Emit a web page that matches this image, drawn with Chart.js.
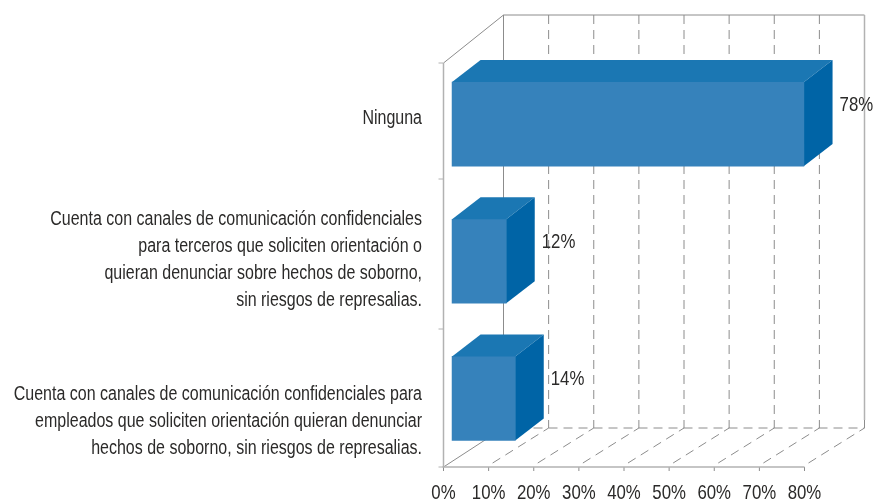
<!DOCTYPE html>
<html>
<head>
<meta charset="utf-8">
<style>
  body { margin: 0; background: #fff; }
</style>
<script src="https://cdn.jsdelivr.net/npm/chart.js@4"></script>
</head>
<body>
<canvas id="chart" width="876" height="503"></canvas>
<script>
const categories = [
  ['Ninguna'],
  ['Cuenta con canales de comunicación confidenciales', 'para terceros que soliciten orientación o', 'quieran denunciar sobre hechos de soborno,', 'sin riesgos de represalias.'],
  ['Cuenta con canales de comunicación confidenciales para', 'empleados que soliciten orientación quieran denunciar', 'hechos de soborno, sin riesgos de represalias.']
];
const values = [78, 12, 14];
const xTicks = [0, 10, 20, 30, 40, 50, 60, 70, 80];

const fontName = '"Liberation Sans", sans-serif';
const textColor = '#2b2a29';
const lineColor = '#8c8c8c';
const axisColor = '#b2b2b2';
const frontColor = '#3682bb';
const topColor = '#1b77b3';
const sideColor = '#0064a6';

// the bars sit a little inside the box, so they get their own hidden x axis
const barShift = 1.9;
// depth of the bars and of the box
const barDepth = { x: 28.5, y: 22 };
const boxDepth = { x: 60, top: 48, bottom: 39 };
const boxTop = 63;
const floorY = 467;
const leftTicks = [63, 179, 329, 467];
const labelCenters = [118, 260, 421];
// no condensed font is installed, so the text is squeezed by hand
const squeeze = 0.8;

const line = (ctx, x1, y1, x2, y2, color, width, dash) => {
  ctx.save();
  ctx.strokeStyle = color;
  ctx.lineWidth = width;
  ctx.setLineDash(dash || []);
  ctx.beginPath();
  ctx.moveTo(x1, y1);
  ctx.lineTo(x2, y2);
  ctx.stroke();
  ctx.restore();
};

const face = (ctx, points, color) => {
  ctx.fillStyle = color;
  ctx.beginPath();
  points.forEach((p, i) => (i ? ctx.lineTo(p[0], p[1]) : ctx.moveTo(p[0], p[1])));
  ctx.closePath();
  ctx.fill();
};

const label = (ctx, text, x, y, align, size) => {
  ctx.save();
  ctx.translate(x, y);
  ctx.scale(squeeze, 1);
  ctx.fillStyle = textColor;
  ctx.font = size + 'px ' + fontName;
  ctx.textBaseline = 'middle';
  ctx.textAlign = align;
  ctx.fillText(text, 0, 0);
  ctx.restore();
};

const boxPlugin = {
  id: 'box',
  beforeDatasetsDraw(chart) {
    const { ctx } = chart;
    const x = chart.scales.x;
    const left = x.getPixelForValue(0);
    const right = x.getPixelForValue(80);
    const backTop = boxTop - boxDepth.top;
    const backFloor = floorY - boxDepth.bottom;
    const dash = [9, 6];

    xTicks.forEach((tick) => {
      const px = x.getPixelForValue(tick);
      if (tick > 0) {
        line(ctx, px + boxDepth.x, backTop, px + boxDepth.x, backFloor, lineColor, 1, dash);
        line(ctx, px + 4, floorY - 4, px + boxDepth.x, backFloor, lineColor, 1, dash);
      }
      line(ctx, px, floorY, px, floorY + 4, lineColor, 1);
      label(ctx, tick + '%', px, 493.5, 'center', 21);
    });

    // back wall and side wall
    line(ctx, left + boxDepth.x, backTop, right + boxDepth.x, backTop, lineColor, 1);
    line(ctx, left + boxDepth.x, backTop, left + boxDepth.x, backFloor, lineColor, 1);
    line(ctx, right + boxDepth.x, backTop, right + boxDepth.x, backFloor - 8, axisColor, 1.5);
    line(ctx, left, boxTop, left + boxDepth.x, backTop, lineColor, 1);
    line(ctx, left, floorY, left + boxDepth.x, backFloor, lineColor, 1);
    line(ctx, left + boxDepth.x, backFloor, right + boxDepth.x, backFloor, lineColor, 1, dash);

    // front axes
    line(ctx, left, boxTop, left, floorY, axisColor, 1.5);
    line(ctx, left - 1, floorY, right, floorY, axisColor, 1.5);
    leftTicks.forEach((y) => line(ctx, left - 5, y, left, y, axisColor, 1));
  },
  afterDatasetsDraw(chart) {
    const { ctx } = chart;
    const bars = chart.getDatasetMeta(0).data;
    bars.forEach((bar, i) => {
      const top = bar.y - bar.height / 2;
      const bottom = bar.y + bar.height / 2;
      const d = barDepth;
      face(ctx, [[bar.base, top], [bar.base + d.x, top - d.y], [bar.x + d.x, top - d.y], [bar.x, top]], topColor);
      face(ctx, [[bar.x, top], [bar.x + d.x, top - d.y], [bar.x + d.x, bottom - d.y], [bar.x, bottom]], sideColor);

      label(ctx, values[i] + '%', bar.x + d.x + 7, bar.y - 19, 'left', 21);

      // category text, right aligned against the axis
      const lines = categories[i];
      lines.forEach((text, n) => {
        label(ctx, text, 422, labelCenters[i] + (n - (lines.length - 1) / 2) * 27, 'right', 20);
      });
    });
  }
};

new Chart(document.getElementById('chart'), {
  type: 'bar',
  data: {
    labels: categories.map((c) => c.join(' ')),
    datasets: [{
      data: values,
      xAxisID: 'xBars',
      backgroundColor: frontColor,
      barThickness: 84
    }]
  },
  options: {
    indexAxis: 'y',
    responsive: false,
    animation: false,
    layout: { padding: { top: 55.5, right: 71.5 } },
    plugins: { legend: { display: false }, tooltip: { enabled: false } },
    scales: {
      x: {
        type: 'linear',
        min: 0,
        max: 80,
        afterFit: (axis) => { axis.height = 36; },
        grid: { display: false },
        border: { display: false },
        ticks: { display: false }
      },
      xBars: {
        type: 'linear',
        display: false,
        min: -barShift,
        max: 80 - barShift
      },
      y: {
        afterFit: (axis) => { axis.width = 443.5; },
        grid: { display: false },
        border: { display: false },
        ticks: { display: false }
      }
    }
  },
  plugins: [boxPlugin]
});
</script>
</body>
</html>
